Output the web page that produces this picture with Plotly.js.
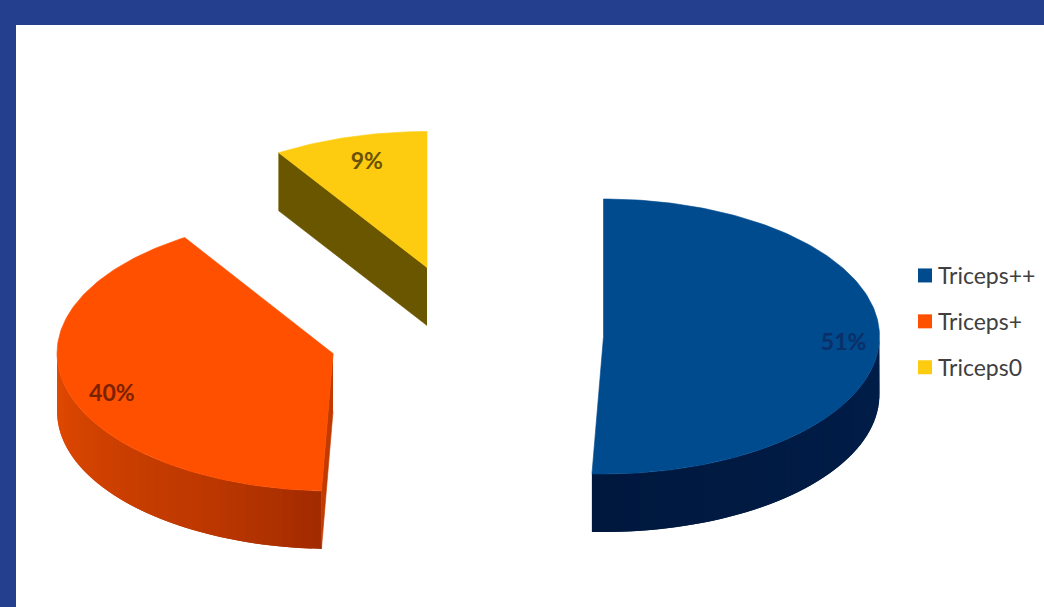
<!DOCTYPE html>
<html>
<head>
<meta charset="utf-8">
<script src="https://cdn.plot.ly/plotly-3.0.1.min.js"></script>
<style>html,body{margin:0;padding:0;background:#fff}#chart{width:1044px;height:607px}</style>
</head>
<body>
<div id="chart"></div>
<script>
// Share of each triceps reflex grade
const categories = ['Triceps++', 'Triceps+', 'Triceps0'];
const percents = [51, 40, 9];

// Top-face, cut-face and rim colours for each slice
const topColors = ['#004a8e', '#ff5000', '#fdcc10'];
const cutColors = ['#001c47', '#c23a00', '#6b5600'];
const labelColors = ['#0b2f66', '#7a2200', '#6b5200'];
const rimStops = [
  [[90, [0, 30, 74]], [182, [0, 24, 62]]],
  [[182, [160, 42, 0]], [205, [186, 54, 0]], [235, [205, 64, 0]], [270, [228, 74, 0]]],
  []
];

// Exploded slice centres and the tilted-disc projection, in plot units
const centresX = [603.5, 333, 427];
const centresY = [336.5, 353.5, 267.5];
const radiusX = 276;
const radiusY = [137.5, 137.5, 136];
const depth = 58;
const frontPull = 1.2;   // perspective narrows the disc slightly toward the viewer
const labelRadius = [0.87, 0.83, 0.78];
const labelDrop = [5, 12, -2];

const rad = d => d * Math.PI / 180;
const warp = t => t - frontPull * (1 - Math.cos(rad(t))) / 2;
const rimX = (i, t) => centresX[i] + radiusX * Math.sin(rad(warp(t)));
const rimY = (i, t) => centresY[i] - radiusY[i] * Math.cos(rad(warp(t)));

function range(a, b, step) {
  const out = [];
  for (let t = a; t < b; t += step) out.push(t);
  out.push(b);
  return out;
}

function rimColor(stops, t) {
  let k = 0;
  while (k < stops.length - 2 && t > stops[k + 1][0]) k++;
  const [t0, c0] = stops[k], [t1, c1] = stops[k + 1];
  const f = Math.max(0, Math.min(1, (t - t0) / (t1 - t0)));
  return 'rgb(' + c0.map((c, j) => Math.round(c + (c1[j] - c) * f)).join(',') + ')';
}

function polygon(xs, ys, color, edge) {
  return {
    type: 'scatter', mode: 'lines', x: xs, y: ys, fill: 'toself', fillcolor: color,
    line: {color: color, width: edge}, showlegend: false, hoverinfo: 'skip'
  };
}

const traces = [];
const total = percents.reduce((a, b) => a + b, 0);
const labelX = [], labelY = [], labelText = [];
let start = 0;

percents.forEach((p, i) => {
  const end = start + p / total * 360;
  const cx = centresX[i], cy = centresY[i];

  // Cut face along the leading edge, where it turns toward the viewer
  if (Math.sin(rad(start)) < 0) {
    traces.push(polygon(
      [cx, rimX(i, start), rimX(i, start), cx],
      [cy, rimY(i, start), rimY(i, start) + depth, cy + depth],
      cutColors[i], 0.6));
  }

  // Outer wall: overlapping bands, painted in order, so shading varies with no gaps
  const from = Math.max(start, 90), to = Math.min(end, 270);
  if (from < to && rimStops[i].length) {
    const ts = range(from, to, 2);
    ts.slice(0, -1).forEach((t, n) => {
      const arc = range(t, Math.min(t + 4, to), 1);
      traces.push(polygon(
        arc.map(a => rimX(i, a)).concat(arc.slice().reverse().map(a => rimX(i, a))),
        arc.map(a => rimY(i, a)).concat(arc.slice().reverse().map(a => rimY(i, a) + depth)),
        rimColor(rimStops[i], t + 1), 0));
    });
  }

  // Top face
  const arc = range(start, end, 1);
  traces.push(polygon(
    [cx].concat(arc.map(t => rimX(i, t)), [cx]),
    [cy].concat(arc.map(t => rimY(i, t)), [cy]),
    topColors[i], 0.6));

  const mid = rad(warp((start + end) / 2));
  labelX.push(cx + labelRadius[i] * radiusX * Math.sin(mid));
  labelY.push(cy - labelRadius[i] * radiusY[i] * Math.cos(mid) + labelDrop[i]);
  labelText.push(p + '%');
  start = end;
});

// Percentage labels
traces.push({
  type: 'scatter', mode: 'text', x: labelX, y: labelY, text: labelText,
  textposition: 'middle center',
  textfont: {family: 'Lato, sans-serif', size: 23, weight: 700, color: labelColors},
  showlegend: false, hoverinfo: 'skip'
});

// Legend entries
categories.forEach((name, i) => {
  traces.push({
    type: 'scatter', mode: 'markers', name: name, x: [null], y: [null],
    legendgroup: name,
    marker: {symbol: 'square', size: 14, color: topColors[i], angle: 90, standoff: 7}
  });
});

Plotly.newPlot('chart', traces, {
  width: 1044, height: 607,
  margin: {l: 0, r: 0, t: 0, b: 0},
  paper_bgcolor: '#243f8e',
  plot_bgcolor: '#ffffff',
  xaxis: {domain: [16 / 1044, 1], range: [16, 1044], visible: false, fixedrange: true},
  yaxis: {domain: [0, 582 / 607], range: [607, 25], visible: false, fixedrange: true},
  showlegend: true,
  legend: {
    x: 898 / 1044, xanchor: 'left', y: 1 - 254 / 607, yanchor: 'top',
    bgcolor: 'rgba(0,0,0,0)', traceorder: 'grouped', tracegroupgap: 13,
    itemwidth: 30, itemclick: false, itemdoubleclick: false,
    font: {family: 'Lato, sans-serif', size: 23, color: '#404040'}
  }
}, {displayModeBar: false, staticPlot: true});
</script>
</body>
</html>
